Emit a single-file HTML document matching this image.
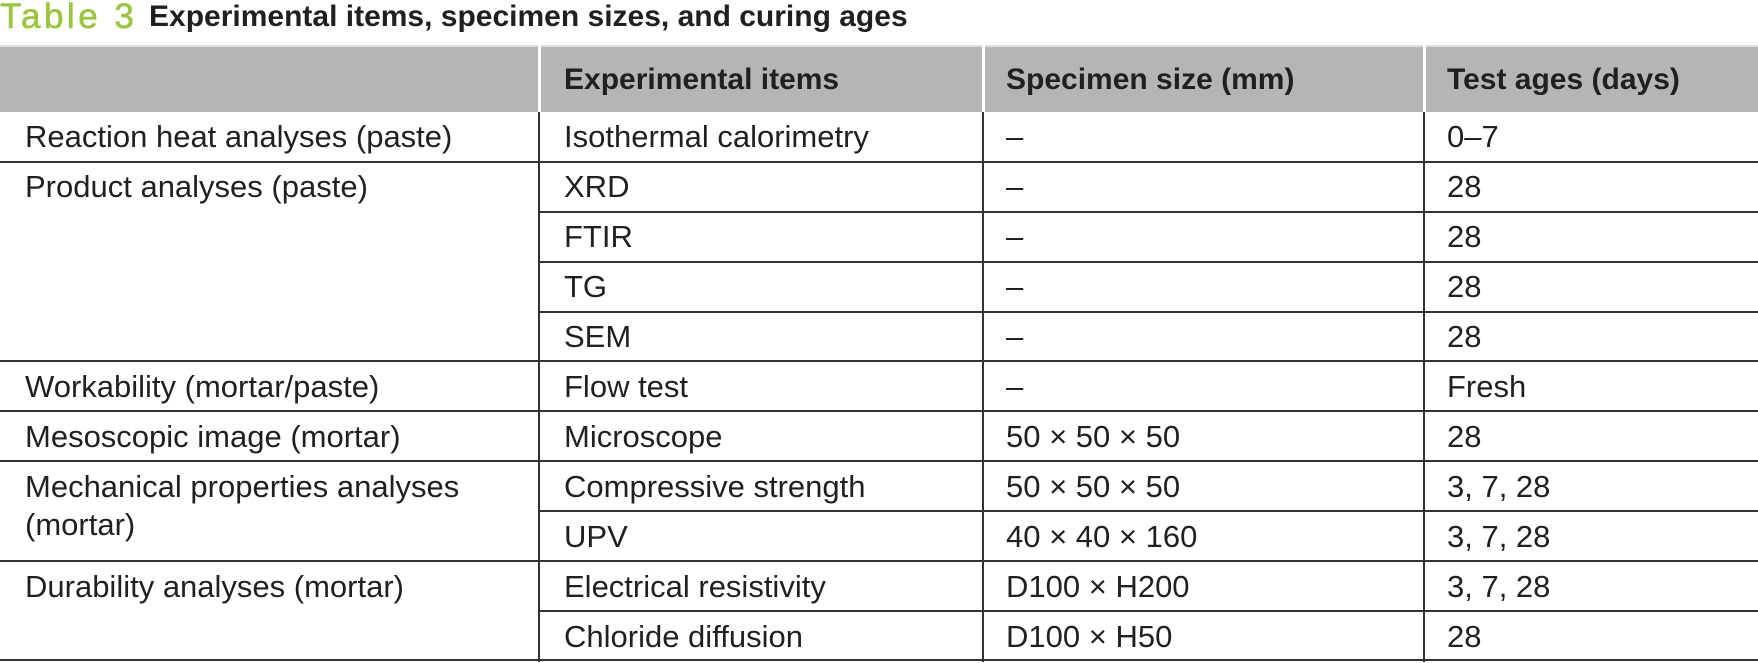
<!DOCTYPE html>
<html><head><meta charset="utf-8"><style>
html,body{margin:0;padding:0;background:#fff;}
body{width:1758px;height:663px;position:relative;overflow:hidden;font-family:"Liberation Sans",sans-serif;color:#231f20;}
.t{position:absolute;font-size:31px;line-height:34px;white-space:nowrap;}
.h{font-weight:bold;font-size:30px;}
.l{position:absolute;background:#333;height:2px;}
.v{position:absolute;background:#333;width:2px;}
</style></head><body>
<div class="t" style="left:0;top:-2px;font-size:35px;line-height:38px;color:#9bc53d;letter-spacing:3.5px;-webkit-text-stroke:0.6px #9bc53d;">Table 3</div>
<div class="t" style="left:149px;top:0px;font-size:30px;font-weight:bold;">Experimental items, specimen sizes, and curing ages</div>
<div style="position:absolute;left:0;top:45px;width:1758px;height:67px;background:#b5b5b5;"></div>
<div style="position:absolute;left:0;top:45px;width:1758px;height:2px;background:#ddd;"></div>
<div style="position:absolute;left:538px;top:45px;width:3px;height:67px;background:#fff;"></div>
<div style="position:absolute;left:982px;top:45px;width:3px;height:67px;background:#fff;"></div>
<div style="position:absolute;left:1423px;top:45px;width:3px;height:67px;background:#fff;"></div>
<div class="t h" style="left:564px;top:63px;">Experimental items</div>
<div class="t h" style="left:1006px;top:63px;">Specimen size (mm)</div>
<div class="t h" style="left:1447px;top:63px;">Test ages (days)</div>

<div class="v" style="left:538px;top:112px;height:550px;"></div>
<div class="v" style="left:982px;top:112px;height:550px;"></div>
<div class="v" style="left:1423px;top:112px;height:550px;"></div>

<div class="l" style="left:0;width:1758px;top:161px;"></div>
<div class="l" style="left:539px;width:1219px;top:211px;"></div>
<div class="l" style="left:539px;width:1219px;top:261px;"></div>
<div class="l" style="left:539px;width:1219px;top:311px;"></div>
<div class="l" style="left:0;width:1758px;top:360px;"></div>
<div class="l" style="left:0;width:1758px;top:410px;"></div>
<div class="l" style="left:0;width:1758px;top:460px;"></div>
<div class="l" style="left:539px;width:1219px;top:510px;"></div>
<div class="l" style="left:0;width:1758px;top:560px;"></div>
<div class="l" style="left:539px;width:1219px;top:610px;"></div>
<div class="l" style="left:0;width:1758px;top:659px;"></div>

<div class="t" style="left:25px;top:120px;">Reaction heat analyses (paste)</div>
<div class="t" style="left:564px;top:120px;">Isothermal calorimetry</div>
<div class="t" style="left:1006px;top:120px;">–</div>
<div class="t" style="left:1447px;top:120px;">0–7</div>

<div class="t" style="left:25px;top:170px;">Product analyses (paste)</div>
<div class="t" style="left:564px;top:170px;">XRD</div>
<div class="t" style="left:1006px;top:170px;">–</div>
<div class="t" style="left:1447px;top:170px;">28</div>

<div class="t" style="left:564px;top:220px;">FTIR</div>
<div class="t" style="left:1006px;top:220px;">–</div>
<div class="t" style="left:1447px;top:220px;">28</div>

<div class="t" style="left:564px;top:270px;">TG</div>
<div class="t" style="left:1006px;top:270px;">–</div>
<div class="t" style="left:1447px;top:270px;">28</div>

<div class="t" style="left:564px;top:320px;">SEM</div>
<div class="t" style="left:1006px;top:320px;">–</div>
<div class="t" style="left:1447px;top:320px;">28</div>

<div class="t" style="left:25px;top:370px;">Workability (mortar/paste)</div>
<div class="t" style="left:564px;top:370px;">Flow test</div>
<div class="t" style="left:1006px;top:370px;">–</div>
<div class="t" style="left:1447px;top:370px;">Fresh</div>

<div class="t" style="left:25px;top:420px;">Mesoscopic image (mortar)</div>
<div class="t" style="left:564px;top:420px;">Microscope</div>
<div class="t" style="left:1006px;top:420px;">50 × 50 × 50</div>
<div class="t" style="left:1447px;top:420px;">28</div>

<div class="t" style="left:25px;top:470px;">Mechanical properties analyses</div>
<div class="t" style="left:25px;top:508px;">(mortar)</div>
<div class="t" style="left:564px;top:470px;">Compressive strength</div>
<div class="t" style="left:1006px;top:470px;">50 × 50 × 50</div>
<div class="t" style="left:1447px;top:470px;">3, 7, 28</div>

<div class="t" style="left:564px;top:520px;">UPV</div>
<div class="t" style="left:1006px;top:520px;">40 × 40 × 160</div>
<div class="t" style="left:1447px;top:520px;">3, 7, 28</div>

<div class="t" style="left:25px;top:570px;">Durability analyses (mortar)</div>
<div class="t" style="left:564px;top:570px;">Electrical resistivity</div>
<div class="t" style="left:1006px;top:570px;">D100 × H200</div>
<div class="t" style="left:1447px;top:570px;">3, 7, 28</div>

<div class="t" style="left:564px;top:620px;">Chloride diffusion</div>
<div class="t" style="left:1006px;top:620px;">D100 × H50</div>
<div class="t" style="left:1447px;top:620px;">28</div>
</body></html>
